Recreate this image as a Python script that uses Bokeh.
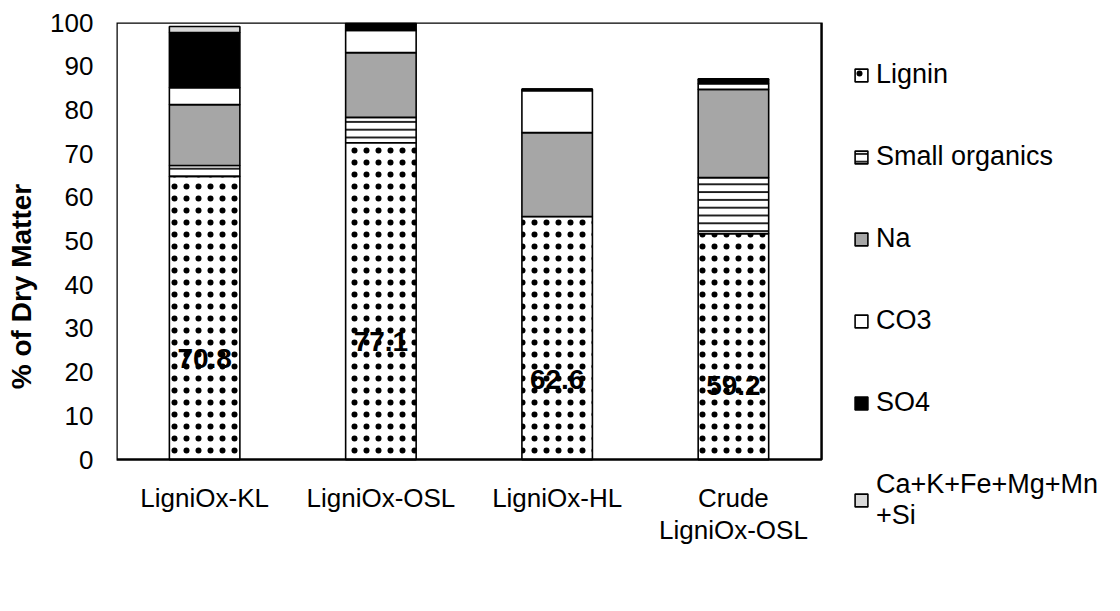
from bokeh.plotting import figure
from bokeh.models import ColumnDataSource, Legend, LegendItem, FixedTicker, LabelSet, BoxAnnotation
from bokeh.core.properties import value
from bokeh.embed import file_html
from bokeh.resources import INLINE

categories = ["LigniOx-KL", "LigniOx-OSL", "LigniOx-HL", "Crude\nLigniOx-OSL"]
series_names = ["Lignin", "Small organics", "Na", "CO3", "SO4", "Ca+K+Fe+Mg+Mn\n+Si"]
lignin = [64.8, 72.5, 55.6, 51.7]
small_organics = [2.5, 5.8, 0.0, 12.8]
na = [13.9, 14.8, 19.2, 20.2]
co3 = [3.9, 5.1, 9.6, 1.3]
so4 = [12.6, 1.5, 0.4, 0.9]
ca_etc = [1.4, 0.1, 0.0, 0.2]
label_texts = ["70.8", "77.1", "62.6", "59.2"]
label_y = [23.1, 27.0, 18.3, 16.9]
y_ticks = list(range(0, 101, 10))

FONT = "Liberation Sans"
x = [1, 2, 3, 4]

# The frame is widened/lengthened so the legend (outside the bar box) is not clipped;
# the bar box itself spans x 0.5..4.5 and y 0..100.
p = figure(width=1120, height=611, x_range=(0.5, 6.196), y_range=(-20.8, 100),
           output_backend="svg", toolbar_location=None,
           min_border_left=116, min_border_top=22, min_border_right=0, min_border_bottom=61)
p.background_fill_color = None
p.border_fill_color = "white"
p.xgrid.visible = False
p.ygrid.visible = False
p.outline_line_color = None

styles = [
    dict(fill_color="white", hatch_pattern="dot", hatch_color="black", hatch_scale=12, hatch_weight=1.2),
    dict(fill_color="white", hatch_pattern="horizontal_line", hatch_color="black", hatch_scale=7.8, hatch_weight=1.7),
    dict(fill_color="#A6A6A6"),
    dict(fill_color="white"),
    dict(fill_color="black"),
    dict(fill_color="#D9D9D9"),
]
data = [lignin, small_organics, na, co3, so4, ca_etc]

items = []
bottom = [0.0] * 4
for name, vals, st in zip(series_names, data, styles):
    top = [b + v for b, v in zip(bottom, vals)]
    src = ColumnDataSource(dict(x=x, bottom=bottom, top=top))
    r = p.vbar(x="x", bottom="bottom", top="top", width=0.4, source=src,
               line_color="black", line_width=1.6, **st)
    items.append(LegendItem(label=name, renderers=[r]))
    bottom = top

# plot-area box
p.add_layout(BoxAnnotation(left=0.5, right=4.5, bottom=0, top=100, fill_color=None, fill_alpha=0,
                           line_color="black", line_alpha=1.0, line_width=2.5))

lab_src = ColumnDataSource(dict(x=x, y=label_y, t=label_texts))
p.add_layout(LabelSet(x="x", y="y", text="t", source=lab_src, text_align="center", text_baseline="middle",
                      text_font=value(FONT), text_font_style="bold", text_font_size="28px",
                      text_color="black"))

# category labels under the box (each line centred on its bar)
line1 = [c.split("\n")[0] for c in categories]
line2 = [c.split("\n")[1] if "\n" in c else "" for c in categories]
cat1 = ColumnDataSource(dict(x=x, y=[-5.3] * 4, t=line1))
cat2 = ColumnDataSource(dict(x=x, y=[-12.6] * 4, t=line2))
for s in (cat1, cat2):
    p.add_layout(LabelSet(x="x", y="y", text="t", source=s, text_align="center", text_baseline="top",
                          text_font=value(FONT), text_font_size="26px", text_color="black"))
p.xaxis.visible = False

# y axis
p.yaxis.ticker = FixedTicker(ticks=y_ticks)
p.yaxis.major_tick_line_color = None
p.yaxis.minor_tick_line_color = None
p.yaxis.axis_line_color = None
p.yaxis.major_label_standoff = 17
p.yaxis.major_label_text_font = FONT
p.yaxis.major_label_text_font_size = "26px"
p.yaxis.major_label_text_color = "black"
p.yaxis.axis_label = "% of Dry Matter"
p.yaxis.axis_label_text_font = FONT
p.yaxis.axis_label_text_font_style = "bold"
p.yaxis.axis_label_text_font_size = "28px"
p.yaxis.axis_label_text_color = "black"
p.yaxis.axis_label_standoff = 10

legend = Legend(items=items, location=(737, 19), border_line_color=None, background_fill_color=None,
                padding=0, margin=0, spacing=51, glyph_width=16, glyph_height=16, label_height=31,
                label_standoff=7, label_text_font=FONT, label_text_font_size="27px",
                label_text_line_height=1.0,
                label_text_color="black", label_text_baseline="middle")
p.add_layout(legend, "center")

open("out.html", "w").write(file_html(p, INLINE))
